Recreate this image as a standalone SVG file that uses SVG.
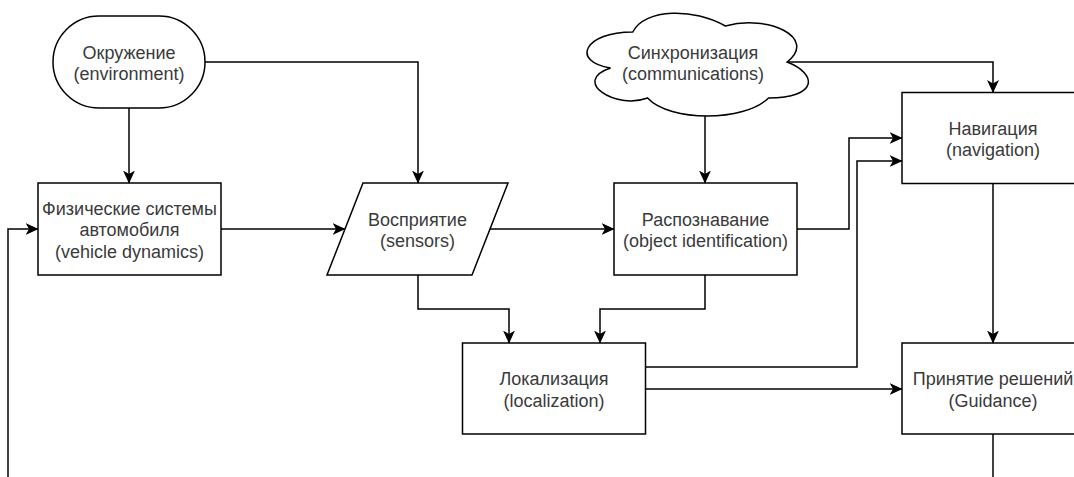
<svg xmlns="http://www.w3.org/2000/svg" width="1074" height="477" viewBox="0 0 1074 477">
<style>
.shape{fill:#ffffff;stroke:#000000;stroke-width:1.5}
.edge{fill:none;stroke:#000000;stroke-width:1.5;marker-end:url(#arrow)}
.plain{fill:none;stroke:#000000;stroke-width:1.5}
text{font-family:"Liberation Sans",Arial,sans-serif;font-size:18px;fill:#3a3a3a;text-anchor:middle}
</style>
<defs>
<marker id="arrow" markerUnits="userSpaceOnUse" markerWidth="15" markerHeight="13" refX="12.5" refY="6" orient="auto">
<path d="M0,0 L13,6 L0,12 L3.5,6 Z" fill="#000000"/>
</marker>
</defs>
<rect width="1074" height="477" fill="#ffffff"/>
<g id="connectors">
<path class="edge" d="M205,62 H418 V183"/>
<path class="edge" d="M129,108 V183"/>
<path class="edge" d="M8,477 V229 H38"/>
<path class="edge" d="M221,229 H345"/>
<path class="edge" d="M490,229 H614"/>
<path class="edge" d="M705,116 V183"/>
<path class="edge" d="M787,62 H993 V92.5"/>
<path class="edge" d="M797,229 H849 V138 H902"/>
<path class="edge" d="M645.5,367 H857 V161 H902"/>
<path class="edge" d="M418,275 V309 H509 V343"/>
<path class="edge" d="M705,275 V309 H600 V343"/>
<path class="edge" d="M993,183.5 V343"/>
<path class="edge" d="M645.5,389 H902"/>
<path class="plain" d="M993,434 V477"/>
</g>
<g id="environment">
<rect class="shape" x="53" y="16" width="152" height="92" rx="46" ry="46"/>
<text x="129" y="58.5">Окружение</text>
<text x="129" y="80.1">(environment)</text>
</g>
<g id="communications">
<path class="shape" d="M632.75,32 C583.35,32 571,62 610.52,68 C571,81.2 615.46,110 647.57,98 C669.8,122 743.9,122 768.6,98 C818,98 818,74 787.125,62 C818,38 768.6,14 725.375,26 C694.5,8 645.1,8 632.75,32 Z"/>
<text x="693" y="58.5">Синхронизация</text>
<text x="693" y="80.1">(communications)</text>
</g>
<g id="vehicle">
<rect class="shape" x="38" y="183" width="183" height="92"/>
<text x="129.5" y="214.7">Физические системы</text>
<text x="129.5" y="236.3">автомобиля</text>
<text x="129.5" y="257.9">(vehicle dynamics)</text>
</g>
<g id="sensors">
<path class="shape" d="M363,183 H508 L472,275 H327 Z"/>
<text x="417.5" y="225.5">Восприятие</text>
<text x="417.5" y="247.1">(sensors)</text>
</g>
<g id="identification">
<rect class="shape" x="614" y="183" width="183" height="92"/>
<text x="705.5" y="225.5">Распознавание</text>
<text x="705.5" y="247.1">(object identification)</text>
</g>
<g id="navigation">
<rect class="shape" x="902" y="92.5" width="183" height="91"/>
<text x="993" y="134.5">Навигация</text>
<text x="993" y="156.1">(navigation)</text>
</g>
<g id="localization">
<rect class="shape" x="462.5" y="343" width="183" height="91"/>
<text x="554" y="385">Локализация</text>
<text x="554" y="406.6">(localization)</text>
</g>
<g id="guidance">
<rect class="shape" x="902" y="343" width="183" height="91"/>
<text x="993" y="385">Принятие решений</text>
<text x="993" y="406.6">(Guidance)</text>
</g>
</svg>
